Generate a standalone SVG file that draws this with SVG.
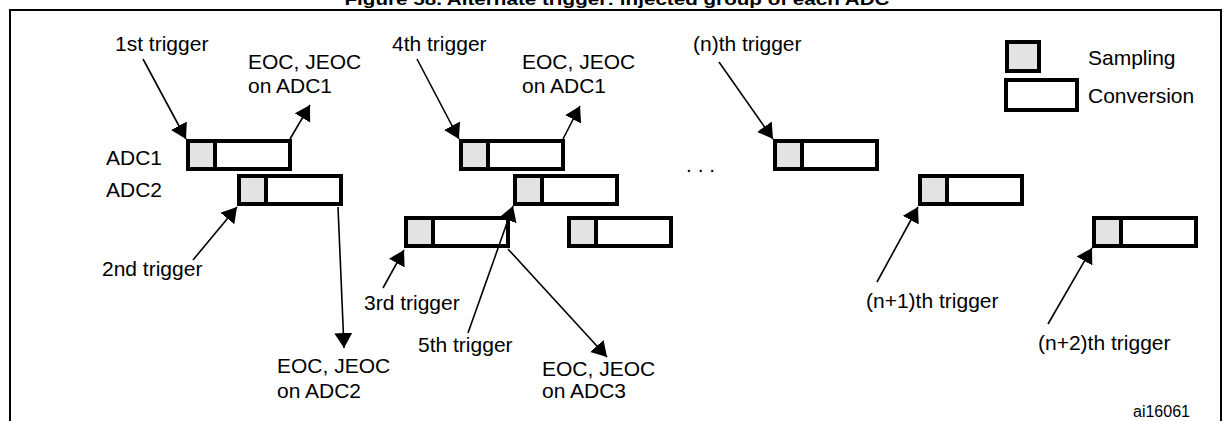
<svg xmlns="http://www.w3.org/2000/svg" width="1232" height="421" viewBox="0 0 1232 421">
<style>
text{font-family:"Liberation Sans",Arial,sans-serif;fill:#000}
.t{font-size:21px}
.title{font-size:17px;font-weight:bold}
.small{font-size:16px}
.conv{fill:#fff;stroke:#000;stroke-width:4}
.samp{fill:#e3e3e3;stroke:#000;stroke-width:4}
.arr{stroke:#000;stroke-width:1.6;fill:none;marker-end:url(#ah)}
</style>
<defs>
<marker id="ah" markerUnits="userSpaceOnUse" markerWidth="18" markerHeight="20" refX="15" refY="9" orient="auto">
<path d="M0,0 L15,9 L0,18 z" fill="#000"/>
</marker>
</defs>
<rect width="1232" height="421" fill="#fff"/>
<text class="title" x="617" y="5" text-anchor="middle" textLength="545" lengthAdjust="spacingAndGlyphs">Figure 58. Alternate trigger: injected group of each ADC</text>
<rect x="10" y="10" width="1211" height="420" fill="none" stroke="#000" stroke-width="2"/>

<g id="legend">
<rect class="samp" x="1007" y="42" width="32" height="29"/>
<rect class="conv" x="1006" y="80" width="71" height="30"/>
<text class="t" x="1088" y="65">Sampling</text>
<text class="t" x="1088" y="103">Conversion</text>
</g>

<g id="labels">
<text class="t" x="106" y="165">ADC1</text>
<text class="t" x="106" y="197">ADC2</text>
<text class="t" x="686" y="172">. . .</text>
<text class="small" x="1133" y="417">ai16061</text>
</g>

<g id="adc1-1"><rect class="conv" x="188" y="141" width="102" height="28"/><rect class="samp" x="188" y="141" width="27" height="28"/></g>
<g id="adc2-1"><rect class="conv" x="239" y="176" width="102" height="28"/><rect class="samp" x="239" y="176" width="27" height="28"/></g>
<g id="adc3-1"><rect class="conv" x="406" y="218" width="102" height="28"/><rect class="samp" x="406" y="218" width="27" height="28"/></g>
<g id="adc1-2"><rect class="conv" x="461" y="141" width="102" height="28"/><rect class="samp" x="461" y="141" width="27" height="28"/></g>
<g id="adc2-2"><rect class="conv" x="515" y="176" width="102" height="28"/><rect class="samp" x="515" y="176" width="27" height="28"/></g>
<g id="adc3-2"><rect class="conv" x="569" y="218" width="102" height="28"/><rect class="samp" x="569" y="218" width="27" height="28"/></g>
<g id="adc1-n"><rect class="conv" x="775" y="141" width="102" height="28"/><rect class="samp" x="775" y="141" width="27" height="28"/></g>
<g id="adc2-n1"><rect class="conv" x="920" y="176" width="102" height="28"/><rect class="samp" x="920" y="176" width="27" height="28"/></g>
<g id="adc3-n2"><rect class="conv" x="1094" y="218" width="102" height="28"/><rect class="samp" x="1094" y="218" width="27" height="28"/></g>

<g id="texts">
<text class="t" x="115" y="51">1st trigger</text>
<text class="t" x="248" y="69">EOC, JEOC</text>
<text class="t" x="248" y="93">on ADC1</text>
<text class="t" x="102" y="276">2nd trigger</text>
<text class="t" x="277" y="373">EOC, JEOC</text>
<text class="t" x="277" y="398">on ADC2</text>
<text class="t" x="364" y="310">3rd trigger</text>
<text class="t" x="418" y="352">5th trigger</text>
<text class="t" x="542" y="376">EOC, JEOC</text>
<text class="t" x="542" y="398">on ADC3</text>
<text class="t" x="392" y="51">4th trigger</text>
<text class="t" x="522" y="69">EOC, JEOC</text>
<text class="t" x="522" y="93">on ADC1</text>
<text class="t" x="693" y="51">(n)th trigger</text>
<text class="t" x="866" y="308">(n+1)th trigger</text>
<text class="t" x="1038" y="350">(n+2)th trigger</text>
</g>

<g id="connectors">
<line class="arr" x1="143" y1="59" x2="186" y2="139"/>
<line class="arr" x1="290" y1="139" x2="310" y2="105"/>
<line class="arr" x1="193" y1="260" x2="237" y2="207"/>
<line class="arr" x1="338" y1="207" x2="344" y2="348"/>
<line class="arr" x1="383" y1="288" x2="404" y2="250"/>
<line class="arr" x1="468" y1="333" x2="513" y2="206"/>
<line class="arr" x1="508" y1="249" x2="607" y2="357"/>
<line class="arr" x1="417" y1="59" x2="459" y2="139"/>
<line class="arr" x1="563" y1="139" x2="580" y2="106"/>
<line class="arr" x1="719" y1="62" x2="773" y2="139"/>
<line class="arr" x1="877" y1="282" x2="918" y2="207"/>
<line class="arr" x1="1048" y1="324" x2="1092" y2="248"/>
</g>
</svg>
